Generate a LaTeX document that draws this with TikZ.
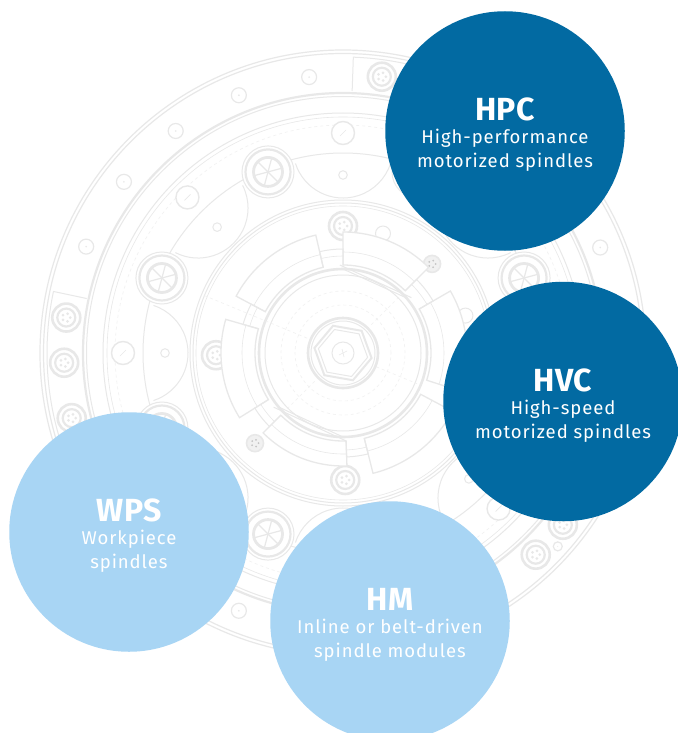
\documentclass[tikz,border=0pt]{standalone}
\usepackage{fontspec}
\usetikzlibrary{calc}
\setmainfont{Fira Sans}
\newfontfamily\subfont[LetterSpace=5]{Fira Sans}
\newfontfamily\titlefont[LetterSpace=1]{Fira Sans}
\definecolor{darkblue}{HTML}{026AA2}
\definecolor{lightblue}{HTML}{A8D5F4}
\definecolor{sketch}{HTML}{E8E8E8}
\definecolor{sketchfaint}{HTML}{F1F1F1}
\newcommand{\bubbletitle}[1]{{\titlefont\bfseries\fontsize{32}{32}\selectfont\rule{0pt}{30pt}#1}}
\tikzset{
  x=1pt,y=1pt,
  bubble/.style={circle,minimum size=239.5pt,inner sep=0pt,text=white,align=center,font=\subfont\fontsize{18.5}{24}\selectfont},
  bubbledark/.style={bubble,fill=darkblue},
  bubblelight/.style={bubble,fill=lightblue},
  skline/.style={draw=sketch,line width=1pt},
  skthick/.style={draw=sketch,line width=2.2pt},
  skthin/.style={draw=sketch,line width=0.6pt},
  skfaint/.style={draw=sketchfaint,line width=0.6pt,dashed},
  bigwheel/.pic={
    \draw[skline,fill=white] (0,0) circle (26);
    \draw[skthick] (0,0) circle (22.5);
    \draw[skthick,line width=2.8pt] (0,0) circle (14.5);
    \foreach \k in {0,60,...,300}{\draw[skline,line width=1.2pt] (0,0) -- (\k+15:14);}
  },
  ringbolt/.pic={
    \draw[skthick,line width=2.6pt,fill=white] (0,0) circle (14);
    \draw[skthick] (0,0) circle (9);
    \foreach \k in {0,72,...,288}{\fill[sketch] (\k:4) circle (1.5);}
  },
  smallhole/.pic={
    \draw[skline,line width=1.2pt,fill=white] (0,0) circle (7.5);
    \fill[sketch] (0,0) circle (0.9);
  },
  midhole/.pic={
    \draw[skline,line width=1.4pt,fill=white] (0,0) circle (11.5);
    \draw[skthin] (-3,-3) -- (3,3);
  },
  tinybolt/.pic={
    \draw[skline,line width=1.6pt,fill=sketchfaint] (0,0) circle (8.5);
    \foreach \k in {0,72,...,288}{\fill[sketch!85!black] (\k:3.5) circle (1);}
  },
}
\begin{document}
\begin{tikzpicture}
\useasboundingbox (0,-733) rectangle (677,0);
\fill[white] (0,-733) rectangle (677,0);
\begin{scope}[shift={(343,-353)}]
  % outer rings
  \foreach \r in {303,299.5}{\draw[skline,line width=1.2pt] (0,0) circle (\r);}
  \draw[skthick] (0,0) circle (260);
  \draw[skline] (0,0) circle (256.5);
  \draw[skline] (0,0) circle (240);
  \draw[skthin] (0,0) circle (236);
  \draw[skfaint] (0,0) circle (228);
  % outer ring pockets
  \draw[skline] (88:262) -- (88:296) arc (88:75:296);
  \draw[skline] (168:262) -- (168:296) arc (168:197:296);
  % outer ring holes and bolts
  \foreach \a in {97,112,127,142,157.5,22.3,248}{\path (\a:278) pic {smallhole};}
  \foreach \a in {82,172.7,182,193.5,-46.3,-38}{\path (\a:279) pic {ringbolt};}
  \path (-42:289) pic[scale=0.6] {smallhole};
  % middle holes
  \foreach \a in {90,135,180,225,270,315,0,45}{\path (\a:220) pic {midhole};}
  % lobes and their holes
  \foreach \a in {0,45,...,315}{
    \draw[skline] ($(\a:205)+(\a+108:50)$) arc (\a+108:\a+252:50);
    \draw[skline] (\a-15:200) arc (\a-15:\a+15:200);
    \draw[skline] (\a:178) circle (4.3);
  }
  % wheels
  \foreach \a in {22.5,67.5,...,337.5}{\path (\a:196) pic {bigwheel};}
  % hub rings
  \foreach \r in {153,150}{\draw[skline] (0,0) circle (\r);}
  \draw[skthin] (0,0) circle (147);
  % bolts behind the sectors
  \foreach \a in {90,181,271,0}{\path (\a:127) pic {ringbolt};}
  \draw[skline,fill=white] (17:128) circle (7.5);
  \draw[skline,fill=white] (71.5:126) circle (7.5);
  \path (45:126) pic {tinybolt};
  \path (225.7:126) pic {tinybolt};
  % sectors
  \foreach \p/\q/\ro in {103/152/121,164/212/122,284/332/124,-18/30/124,45/90/121,225/272/113}{
    \draw[skline,line width=1.3pt,fill=white] (\p:\ro) arc (\p:\q:\ro) -- (\q:88) arc (\q:\p:88) -- cycle;
    \draw[skthin] (\p:101) arc (\p:\q:101);
  }
  % notch blocks between the sectors
  \foreach \p/\q in {90/103,152/164,212/225,272/284,30/45}{
    \draw[skline] (\p:88) -- (\p:104) arc (\p:\q:104) -- (\q:88);
    \draw[skthin] (\p:97) arc (\p:\q:97);
  }
  % hub
  \draw[skthick,line width=2.6pt,fill=white] (0,0) circle (84);
  \draw[skline] (0,0) circle (78);
  \draw[skline] (90:84) -- (41:84);
  \draw[skline] (92:88) -- (39:88);
  \draw[skline] (220:84) -- (270:84);
  \draw[skline] (218:88) -- (272:88);
  % faint centre lines
  \foreach \r in {48,62}{\draw[skfaint] (0,0) circle (\r);}
  \draw[skfaint] (157.5:150) -- (157.5:36);
  \draw[skfaint] (-22.5:36) -- (-22.5:80);
  \draw[skfaint] (45:40) -- (45:80);
  \draw[skfaint] (225:40) -- (225:80);
  % centre nut
  \draw[skthick,line width=2.6pt] (0,0) circle (35);
  \draw[skline] (0,0) circle (32);
  \draw[skline,line width=2pt] (-10:29) -- (50:29) -- (110:29) -- (170:29) -- (230:29) -- (290:29) -- cycle;
  \draw[skline] (-10:25) -- (50:25) -- (110:25) -- (170:25) -- (230:25) -- (290:25) -- cycle;
  \draw[skline] (0,0) circle (11);
  \draw[skthin] (-4,-2) -- (4,2);
  \draw[skthin] (1,-4) -- (-1,4);
\end{scope}
% the four bubbles
\node[bubbledark] (hpc) at (505,-131) {\bubbletitle{HPC}\\[-1pt]High-performance\\motorized spindles};
\node[bubbledark] (hvc) at (563,-401.5) {\bubbletitle{HVC}\\[-1pt]High-speed\\motorized spindles};
\node[bubblelight] (wps) at (129,-532) {\bubbletitle{WPS}\\[-1pt]Workpiece\\spindles};
\node[bubblelight] (hm) at (390,-621) {\bubbletitle{HM}\\[-1pt]Inline or belt-driven\\spindle modules};
\end{tikzpicture}
\end{document}
